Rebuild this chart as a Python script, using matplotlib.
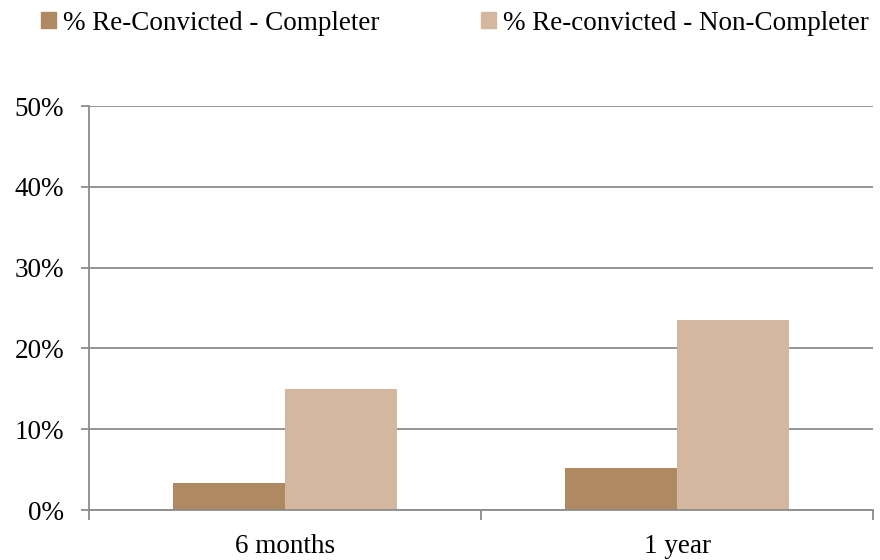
import matplotlib
matplotlib.use("Agg")
import matplotlib.pyplot as plt
from matplotlib.patches import Patch
from matplotlib.ticker import FixedLocator, PercentFormatter

# Re-conviction rates by follow-up period
periods = ["6 months", "1 year"]
completer = [3.4, 5.2]
non_completer = [15.0, 23.5]
series_labels = ["% Re-Convicted - Completer", "% Re-convicted - Non-Completer"]
y_ticks = [0, 10, 20, 30, 40, 50]

colors = ["#AE8962", "#D4B79E"]
grid_color = "#8C8C8C"
font = ["Liberation Serif", "DejaVu Serif"]
fs = 19.5

plt.rcParams["font.family"] = font

fig = plt.figure(figsize=(8.8, 5.6), dpi=100)
ax = fig.add_axes([89 / 880, 1 - 510 / 560, (873 - 89) / 880, (510 - 106) / 560])

x = list(range(len(periods)))
w = 0.285
ax.bar([i - w / 2 for i in x], completer, width=w, color=colors[0], zorder=3)
ax.bar([i + w / 2 for i in x], non_completer, width=w, color=colors[1], zorder=3)

ax.set_xlim(-0.5, len(periods) - 0.5)
ax.set_ylim(0, 50)
ax.set_yticks(y_ticks)
ax.yaxis.set_major_formatter(PercentFormatter(decimals=0))
ax.yaxis.grid(True, color=grid_color, linewidth=1.3, zorder=0)

ax.set_xticks(x)
ax.set_xticklabels(periods)
ax.xaxis.set_minor_locator(FixedLocator([i - 0.5 for i in range(len(periods) + 1)]))
ax.tick_params(axis="x", which="major", length=0, pad=17, labelsize=fs)
ax.tick_params(axis="x", which="minor", length=7, width=1.3, color=grid_color)
ax.tick_params(axis="y", length=6, width=1.3, color=grid_color, pad=12, labelsize=fs)

for side in ("top", "right"):
    ax.spines[side].set_visible(False)
for side in ("left", "bottom"):
    ax.spines[side].set_color(grid_color)
    ax.spines[side].set_linewidth(1.3)
    ax.spines[side].set_zorder(4)

handles = [Patch(color=c) for c in colors]
fig.legend(handles, series_labels, ncol=2, loc="center left",
           bbox_to_anchor=(41 / 880, 1 - 23 / 560), frameon=False,
           handlelength=0.55, handleheight=0.55, handletextpad=0.26,
           columnspacing=3.75, borderaxespad=0, borderpad=0, fontsize=fs)

fig.savefig("out.png", dpi=100, facecolor="white")
